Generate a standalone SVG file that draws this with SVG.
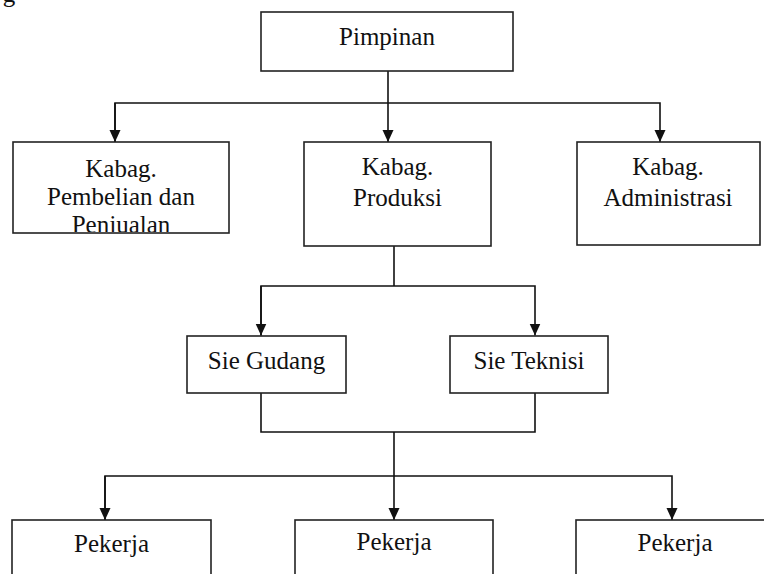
<svg xmlns="http://www.w3.org/2000/svg" width="764" height="574" viewBox="0 0 764 574">
<style>
.box{fill:#fff;stroke:#222;stroke-width:1.6}
.t{font-family:"Liberation Serif","Times New Roman",serif;font-size:25px;fill:#111;text-anchor:middle}
.c{fill:none;stroke:#111;stroke-width:1.6}
</style>
<defs>
<marker id="arr" viewBox="0 0 12 12" refX="12" refY="6" markerWidth="12" markerHeight="12" markerUnits="userSpaceOnUse" orient="auto">
<path d="M0,0.5 L12,6 L0,11.5 z" fill="#111"/>
</marker>
<clipPath id="clipPJ"><rect x="13" y="142" width="216" height="90"/></clipPath>
</defs>
<text class="t" x="9" y="2">g</text>
<g id="connectors">
<path class="c" d="M388,71 V142" marker-end="url(#arr)"/>
<path class="c" d="M115,142 V103 H660 V142" marker-end="url(#arr)"/>
<path class="c" d="M115,103 V142" marker-end="url(#arr)"/>
<path class="c" d="M394,246 V286"/>
<path class="c" d="M261,335.5 V286 H535 V335.5" marker-end="url(#arr)"/>
<path class="c" d="M261,286 V335.5" marker-end="url(#arr)"/>
<path class="c" d="M261,393 V432 H535 V393"/>
<path class="c" d="M394,432 V520" marker-end="url(#arr)"/>
<path class="c" d="M105,520 V476 H672 V520" marker-end="url(#arr)"/>
<path class="c" d="M105,476 V520" marker-end="url(#arr)"/>
</g>
<g id="pimpinan">
<rect class="box" x="261" y="12" width="252" height="59"/>
<text class="t" x="387" y="45">Pimpinan</text>
</g>
<g id="kabag-pembelian">
<rect class="box" x="13" y="142" width="216" height="91"/>
<text class="t" x="121" y="177">Kabag.</text>
<text class="t" x="121" y="205">Pembelian dan</text>
<text class="t" x="121" y="233" clip-path="url(#clipPJ)">Penjualan</text>
</g>
<g id="kabag-produksi">
<rect class="box" x="304" y="142" width="187" height="104"/>
<text class="t" x="397.5" y="175">Kabag.</text>
<text class="t" x="397.5" y="206">Produksi</text>
</g>
<g id="kabag-administrasi">
<rect class="box" x="577" y="142" width="183" height="103"/>
<text class="t" x="668" y="175">Kabag.</text>
<text class="t" x="668" y="206">Administrasi</text>
</g>
<g id="sie-gudang">
<rect class="box" x="187" y="336" width="159" height="57"/>
<text class="t" x="266.5" y="369">Sie Gudang</text>
</g>
<g id="sie-teknisi">
<rect class="box" x="450" y="336" width="158" height="57"/>
<text class="t" x="529" y="369">Sie Teknisi</text>
</g>
<g id="pekerja-1">
<rect class="box" x="12" y="520" width="199" height="70"/>
<text class="t" x="111.5" y="552">Pekerja</text>
</g>
<g id="pekerja-2">
<rect class="box" x="295" y="520" width="198" height="70"/>
<text class="t" x="394" y="550">Pekerja</text>
</g>
<g id="pekerja-3">
<rect class="box" x="576" y="520" width="200" height="70"/>
<text class="t" x="675" y="551">Pekerja</text>
</g>
</svg>
